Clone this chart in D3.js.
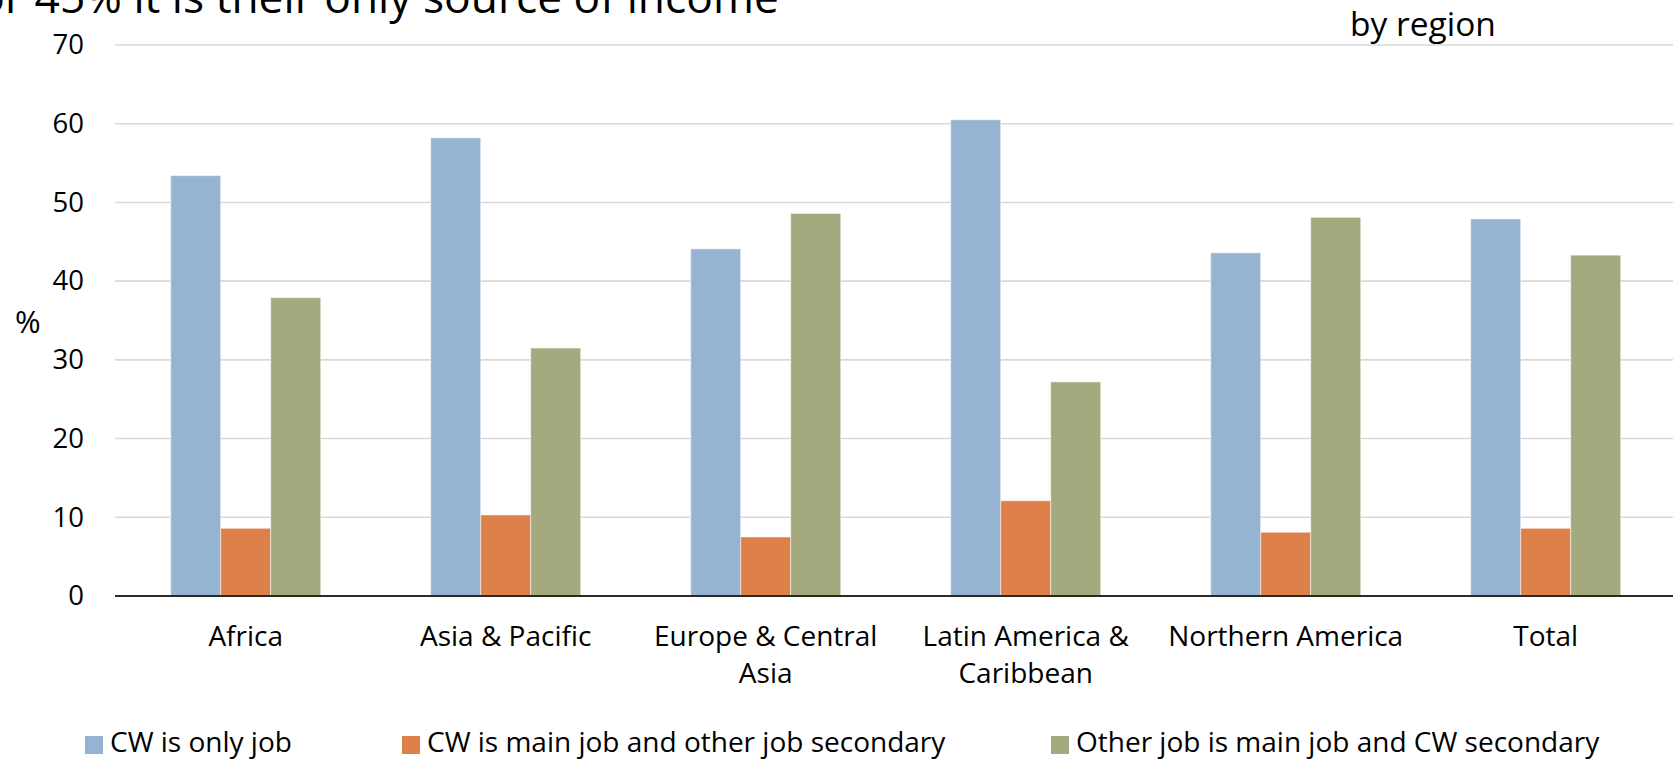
<!DOCTYPE html>
<html>
<head>
<meta charset="utf-8">
<script src="https://cdn.jsdelivr.net/npm/d3@7"></script>
<style>
  html, body { margin: 0; padding: 0; background: #fff; }
  svg { display: block; font-family: "Open Sans", sans-serif; }
</style>
</head>
<body>
<svg id="chart" width="1673" height="761"></svg>
<script>
// Regions on the x axis (line breaks marked with "\n")
const categories = ["Africa", "Asia & Pacific", "Europe & Central\nAsia", "Latin America &\nCaribbean", "Northern America", "Total"];

// Share of crowdworkers (%) by work arrangement
const seriesNames = ["CW is only job", "CW is main job and other job secondary", "Other job is main job and CW secondary"];
const onlyJob      = [53.4, 58.2, 44.1, 60.5, 43.6, 47.9];
const mainJob      = [8.6, 10.3, 7.5, 12.1, 8.1, 8.6];
const secondaryJob = [37.9, 31.5, 48.6, 27.2, 48.1, 43.3];

const yTicks = [0, 10, 20, 30, 40, 50, 60, 70];
const colors = ["#95B4D2", "#DD8049", "#A4AA7E"];

const svg = d3.select("#chart");
const W = 1673, H = 761;

const values = [onlyJob, mainJob, secondaryJob];
const rows = categories.map((c, i) => ({
  category: c,
  vals: seriesNames.map((s, k) => ({ series: s, k, value: values[k][i] }))
}));

const y = d3.scaleLinear().domain([0, 70]).range([596, 45]);
const x0 = d3.scaleBand().domain(categories).range([115.7, 1675.7])
  .paddingInner(110 / 260).paddingOuter(55 / 260);
const x1 = d3.scaleBand().domain(seriesNames).range([0, x0.bandwidth()]);

// Title line running off the top-left corner
const title = svg.append("text")
  .attr("y", 13)
  .attr("font-size", 44.3)
  .attr("fill", "#000")
  .text("For 45% it is their only source of income");
const prefix = title.node().getSubStringLength(0, 2);
title.attr("x", -prefix + 5);

svg.append("text")
  .attr("x", 1350).attr("y", 36)
  .attr("font-size", 33.5)
  .attr("fill", "#000")
  .text("by region");

// Value axis labels
const yAxis = d3.axisLeft(y).tickValues(yTicks).tickSize(0).tickPadding(31);
const gy = svg.append("g").attr("transform", "translate(115,0)").call(yAxis);
gy.select(".domain").remove();
gy.selectAll(".tick text").attr("font-size", 27.5).attr("fill", "#000").attr("font-family", "Open Sans");

// Horizontal gridlines
svg.append("g").selectAll("line").data(yTicks.filter(t => t > 0)).join("line")
  .attr("x1", 115).attr("x2", W)
  .attr("y1", d => y(d)).attr("y2", d => y(d))
  .attr("stroke", "#D9D9D9").attr("stroke-width", 1.6);

svg.append("text")
  .attr("x", 15).attr("y", 322).attr("dy", "0.35em")
  .attr("font-size", 31).attr("fill", "#000")
  .text("%");

// Bars
svg.append("g").selectAll("g").data(rows).join("g")
  .attr("transform", d => `translate(${x0(d.category)},0)`)
  .selectAll("rect").data(d => d.vals).join("rect")
  .attr("x", d => x1(d.series))
  .attr("width", x1.bandwidth())
  .attr("y", d => y(d.value))
  .attr("height", d => y(0) - y(d.value))
  .attr("fill", d => colors[d.k])
  .attr("stroke", "#ffffff").attr("stroke-opacity", 0.5).attr("stroke-width", 1);

// Baseline
svg.append("line")
  .attr("x1", 115).attr("x2", W)
  .attr("y1", y(0)).attr("y2", y(0))
  .attr("stroke", "#2B2A22").attr("stroke-width", 2.2);

// Category labels
const lab = svg.append("g").selectAll("text").data(categories).join("text")
  .attr("x", d => x0(d) + x0.bandwidth() / 2)
  .attr("y", 646)
  .attr("text-anchor", "middle")
  .attr("font-size", 28).attr("fill", "#000");
lab.selectAll("tspan").data(d => d.split("\n")).join("tspan")
  .attr("x", function () { return d3.select(this.parentNode).attr("x"); })
  .attr("dy", (d, i) => i === 0 ? 0 : 37)
  .text(d => d);

// Legend
const legendX = [85, 402, 1051];
const lg = svg.append("g").selectAll("g").data(seriesNames).join("g")
  .attr("transform", (d, i) => `translate(${legendX[i]},736)`);
lg.append("rect").attr("width", 18).attr("height", 18).attr("fill", (d, i) => colors[i]);
lg.append("text").attr("x", 25).attr("y", 16)
  .attr("font-size", 28).attr("fill", "#000")
  .text(d => d);
</script>
</body>
</html>
